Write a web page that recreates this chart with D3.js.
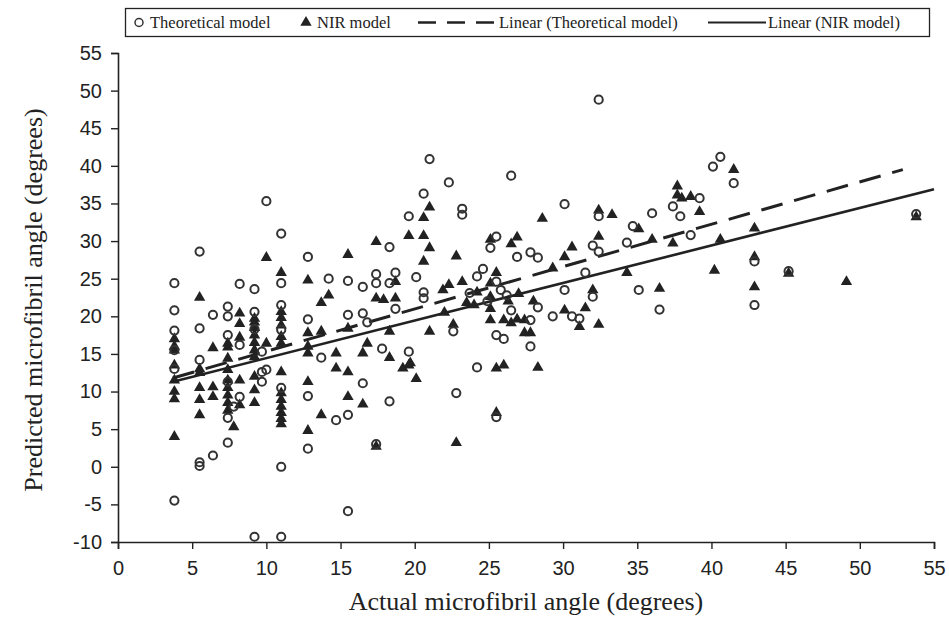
<!DOCTYPE html>
<html>
<head>
<meta charset="utf-8">
<script src="https://cdn.jsdelivr.net/npm/d3@7"></script>
<style>
  body { margin: 0; background: #fff; }
  #chart text { fill: #222; }
</style>
</head>
<body>
<div id="chart"></div>
<script>
// actual MFA vs predicted MFA, theoretical model (open circles)
var theoreticalX = [3.8, 3.8, 3.8, 3.8, 3.8, 3.8, 5.5, 5.5, 5.5, 5.5, 5.5, 6.4, 6.4,
    7.4, 7.4, 7.4, 7.4, 7.4, 7.4, 7.8, 8.2, 8.2, 8.2, 9.2, 9.2, 9.2, 9.2, 9.7, 9.7, 9.7,
    10.0, 10.0, 11.0, 11.0, 11.0, 11.0, 11.0, 11.0, 11.0, 12.8, 12.8, 12.8, 12.8, 13.7,
    14.2, 14.7, 15.5, 15.5, 15.5, 15.5, 16.5, 16.5, 16.5, 16.8, 17.4, 17.4, 17.4, 17.8,
    18.3, 18.3, 18.3, 18.7, 18.7, 19.6, 19.6, 20.1, 20.6, 20.6, 20.6, 21.0, 22.3, 22.6,
    22.8, 23.2, 23.2, 23.7, 24.2, 24.2, 24.6, 24.9, 25.1, 25.5, 25.5, 25.5, 25.5, 25.8,
    26.0, 26.2, 26.5, 26.5, 26.9, 27.8, 27.8, 27.8, 28.3, 28.3, 29.3, 30.1, 30.1, 30.6,
    31.1, 31.5, 32.0, 32.0, 32.4, 32.4, 32.4, 34.3, 34.7, 35.1, 36.0, 36.5, 37.4, 37.9,
    38.6, 39.2, 40.1, 40.6, 41.5, 42.9, 42.9, 45.2, 53.8];
var theoreticalY = [24.4, 20.8, 18.1, 15.5, 13.0, -4.5, 28.6, 18.4, 14.2, 0.6, 0.1, 20.2, 1.5,
    21.3, 20.0, 17.5, 11.3, 6.5, 3.2, 8.0, 24.3, 16.2, 9.3, 23.6, 20.6, 18.3, -9.3, 15.3, 12.6, 11.3,
    35.3, 12.9, 31.0, 24.4, 21.5, 18.2, 10.5, 0.0, -9.3, 27.9, 19.6, 9.4, 2.4, 14.5,
    25.0, 6.2, 24.7, 20.2, 6.9, -5.9, 23.9, 20.4, 11.1, 19.2, 25.6, 24.4, 3.0, 15.7,
    29.2, 24.4, 8.7, 25.8, 21.0, 33.3, 15.3, 25.2, 36.3, 23.2, 22.4, 40.9, 37.8, 18.0,
    9.8, 34.3, 33.5, 23.1, 25.3, 13.2, 26.3, 22.0, 29.1, 30.6, 24.6, 17.5, 6.6, 23.5,
    17.0, 22.8, 38.7, 20.8, 27.9, 28.5, 16.0, 19.5, 27.8, 21.2, 20.0, 34.9, 23.5, 20.0,
    19.7, 25.8, 29.4, 22.6, 48.8, 33.3, 28.6, 29.8, 32.0, 23.5, 33.7, 20.9, 34.6, 33.3,
    30.8, 35.7, 39.9, 41.2, 37.7, 27.3, 21.5, 26.0, 33.6];

// NIR model (filled triangles)
var nirX = [3.8, 3.8, 3.8, 3.8, 3.8, 3.8, 3.8, 3.8, 5.5, 5.5, 5.5, 5.5, 5.5, 5.5,
    6.4, 6.4, 6.4, 7.4, 7.4, 7.4, 7.4, 7.4, 7.4, 7.4, 7.4, 7.4, 7.8, 8.2, 8.2, 8.2, 8.2, 8.2,
    9.2, 9.2, 9.2, 9.2, 9.2, 9.2, 9.2, 9.2, 9.2, 9.2, 10.0, 10.0,
    11.0, 11.0, 11.0, 11.0, 11.0, 11.0, 11.0, 11.0, 11.0, 11.0, 11.0, 11.0, 11.0,
    12.8, 12.8, 12.8, 12.8, 12.8, 12.8, 13.7, 13.7, 13.7, 14.2, 14.7, 14.7,
    15.5, 15.5, 15.5, 15.5, 16.5, 16.5, 16.8, 17.4, 17.4, 17.4, 17.9, 18.3, 18.3, 18.7, 18.7,
    19.2, 19.6, 19.6, 19.7, 20.1, 20.6, 20.6, 20.6, 21.0, 21.0, 21.0, 21.9, 22.0, 22.3,
    22.6, 22.8, 22.8, 23.2, 23.5, 24.0, 24.2, 25.1, 25.1, 25.1, 25.1, 25.1, 25.5, 25.5, 25.5,
    26.0, 26.0, 26.3, 26.5, 26.5, 26.9, 26.9, 27.0, 27.4, 27.4, 27.8, 28.0, 28.3, 28.6,
    29.3, 30.1, 30.1, 30.6, 31.1, 31.5, 32.0, 32.4, 32.4, 32.4, 33.3, 34.3, 35.1, 36.0,
    36.5, 37.4, 37.7, 37.7, 38.0, 38.6, 39.2, 40.2, 40.6, 41.5, 42.9, 42.9, 42.9, 45.2,
    49.1, 53.8];
var nirY = [17.0, 16.0, 15.5, 13.5, 11.5, 10.0, 9.0, 4.0, 22.5, 13.0, 12.5, 10.5, 8.9, 6.9,
    15.8, 10.6, 9.3, 16.4, 15.9, 14.4, 12.9, 11.5, 10.5, 9.5, 8.5, 7.5, 5.3, 20.4, 19.0, 17.2, 11.5, 8.2,
    19.7, 19.2, 18.5, 17.5, 16.5, 15.5, 14.6, 12.0, 10.2, 8.5, 27.8, 16.4,
    25.8, 20.6, 19.8, 18.8, 17.3, 16.4, 12.6, 9.8, 8.9, 8.0, 7.2, 6.4, 5.7,
    24.8, 17.8, 16.0, 15.1, 11.3, 4.8, 21.8, 18.0, 6.9, 22.8, 15.1, 13.1,
    28.2, 18.4, 12.6, 9.3, 15.1, 8.3, 16.4, 29.9, 22.4, 2.7, 22.2, 18.0, 14.5, 24.6, 22.4,
    13.1, 30.7, 13.5, 13.8, 11.7, 33.1, 30.7, 27.3, 34.5, 29.1, 18.0, 23.5, 20.5, 24.2,
    18.9, 28.0, 3.2, 24.6, 21.8, 21.5, 23.2, 30.2, 24.4, 22.6, 21.0, 19.5, 25.8, 13.1, 7.2,
    19.5, 13.5, 22.0, 29.6, 19.1, 30.5, 19.6, 23.0, 19.5, 17.8, 17.8, 22.0, 13.2, 33.0,
    26.4, 27.9, 20.8, 29.2, 18.6, 21.1, 23.5, 34.1, 30.6, 18.9, 33.5, 25.8, 31.6, 30.2,
    23.7, 29.7, 37.3, 36.1, 35.7, 35.9, 33.9, 26.1, 30.2, 39.5, 31.7, 27.9, 23.9, 25.7,
    24.6, 33.2];

// linear trendlines: [x start, x end], [y start, y end]
var linTheoreticalX = [3.7, 52.9];
var linTheoreticalY = [11.8, 39.5];
var linNirX = [3.7, 55];
var linNirY = [11.3, 36.9];

var xTicks = [0, 5, 10, 15, 20, 25, 30, 35, 40, 45, 50, 55];
var yTicks = [-10, -5, 0, 5, 10, 15, 20, 25, 30, 35, 40, 45, 50, 55];

var legendLabels = ["Theoretical model", "NIR model", "Linear (Theoretical model)", "Linear (NIR model)"];

drawMfaChart();

function drawMfaChart() {
    var margin = { top: 53, right: 15, bottom: 88, left: 118 };
    var fullWidth = 949, fullHeight = 630;
    var width = fullWidth - margin.left - margin.right,
        height = fullHeight - margin.top - margin.bottom;

    var svg = d3.select("#chart").append("svg")
        .attr("width", fullWidth)
        .attr("height", fullHeight);

    var g = svg.append("g")
        .attr("transform", "translate(" + margin.left + "," + margin.top + ")");

    var x = d3.scaleLinear().domain([0, 55]).range([0, width]);
    var y = d3.scaleLinear().domain([-10, 55]).range([height, 0]);

    var ink = "#222";
    var serif = "'Liberation Serif', 'Times New Roman', serif";

    // axes, plain hyphen for negatives like the original
    var fmt = function (d) { return String(d); };
    var yAxis = d3.axisLeft(y).tickValues(yTicks).tickSize(7).tickPadding(9).tickFormat(fmt);
    var xAxis = d3.axisBottom(x).tickValues(xTicks).tickSize(7).tickPadding(9).tickFormat(fmt);

    var gy = g.append("g").call(yAxis);
    var gx = g.append("g").attr("transform", "translate(0," + height + ")").call(xAxis);

    [gx, gy].forEach(function (ax) {
        ax.select(".domain").attr("stroke", ink).attr("stroke-width", 1.6);
        ax.selectAll(".tick line").attr("stroke", ink).attr("stroke-width", 1.4);
        ax.selectAll(".tick text")
            .attr("font-family", "'Liberation Sans', Arial, sans-serif")
            .attr("font-size", "20px")
            .attr("fill", ink);
    });
    gx.selectAll(".tick text").attr("dy", "0.85em");

    // trendlines
    var line = d3.line()
        .x(function (d) { return x(d[0]); })
        .y(function (d) { return y(d[1]); });

    g.append("path")
        .datum(d3.zip(linNirX, linNirY))
        .attr("d", line)
        .attr("fill", "none")
        .attr("stroke", ink)
        .attr("stroke-width", 2.6);

    g.append("path")
        .datum(d3.zip(linTheoreticalX, linTheoreticalY))
        .attr("d", line)
        .attr("fill", "none")
        .attr("stroke", ink)
        .attr("stroke-width", 3)
        .attr("stroke-dasharray", "22,12");

    // NIR triangles
    var tri = d3.symbol().type(d3.symbolTriangle).size(56);
    g.selectAll(".nir")
        .data(d3.zip(nirX, nirY))
        .enter()
        .append("path")
        .attr("class", "nir")
        .attr("d", tri)
        .attr("fill", ink)
        .attr("transform", function (d) {
            return "translate(" + x(d[0]) + "," + y(d[1]) + ")";
        });

    // theoretical circles
    g.selectAll(".theo")
        .data(d3.zip(theoreticalX, theoreticalY))
        .enter()
        .append("circle")
        .attr("class", "theo")
        .attr("cx", function (d) { return x(d[0]); })
        .attr("cy", function (d) { return y(d[1]); })
        .attr("r", 4.1)
        .attr("fill", "none")
        .attr("stroke", "#333")
        .attr("stroke-width", 2);

    // axis titles
    svg.append("text")
        .attr("x", 526)
        .attr("y", 610)
        .attr("text-anchor", "middle")
        .attr("font-family", serif)
        .attr("font-size", "26px")
        .text("Actual microfibril angle (degrees)");

    svg.append("text")
        .attr("transform", "translate(42," + 300 + ") rotate(-90)")
        .attr("text-anchor", "middle")
        .attr("font-family", serif)
        .attr("font-size", "26px")
        .text("Predicted microfibril angle (degrees)");

    // legend
    var leg = svg.append("g");
    leg.append("rect")
        .attr("x", 125.5).attr("y", 8.5)
        .attr("width", 804).attr("height", 28)
        .attr("fill", "#fff")
        .attr("stroke", ink)
        .attr("stroke-width", 1.3);

    var legY = 22.5;

    leg.append("circle").attr("cx", 139).attr("cy", legY).attr("r", 4)
        .attr("fill", "none").attr("stroke", "#333").attr("stroke-width", 1.5);
    leg.append("path").attr("d", tri)
        .attr("transform", "translate(306," + legY + ")").attr("fill", ink);
    leg.append("line").attr("x1", 418).attr("x2", 494).attr("y1", legY).attr("y2", legY)
        .attr("stroke", ink).attr("stroke-width", 2.6).attr("stroke-dasharray", "18,11");
    leg.append("line").attr("x1", 708).attr("x2", 766).attr("y1", legY).attr("y2", legY)
        .attr("stroke", ink).attr("stroke-width", 2);

    var legX = [150, 317, 499, 768];
    leg.selectAll(".leg-text")
        .data(legendLabels)
        .enter()
        .append("text")
        .attr("class", "leg-text")
        .attr("x", function (d, i) { return legX[i]; })
        .attr("y", legY + 5.5)
        .attr("font-family", serif)
        .attr("font-size", "16.5px")
        .text(function (d) { return d; });
}
</script>
</body>
</html>
